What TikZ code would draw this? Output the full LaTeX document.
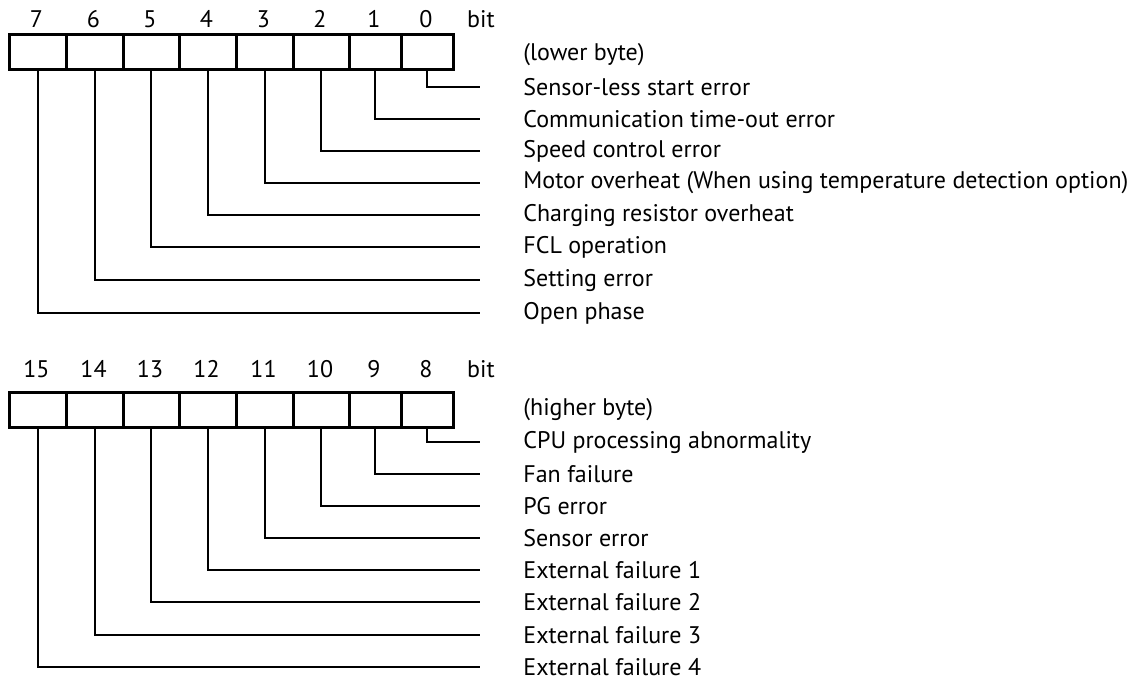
\documentclass[tikz,border=0pt]{standalone}
\usepackage{fontspec}
\setmainfont{PT Sans}
\begin{document}
\begin{tikzpicture}[x=0.5pt,y=-0.5pt,
  cell/.style={draw,line width=1.3pt,minimum height=17.5pt,inner sep=0pt,anchor=north west},
  num/.style={font=\fontsize{12}{14}\selectfont,inner sep=0pt},
  lbl/.style={font=\fontsize{12}{14}\selectfont,inner sep=0pt,anchor=west},
  conn/.style={line width=0.85pt,shorten >=21.5pt}]
\useasboundingbox (0,0) rectangle (1139,680);
% upper register
\foreach \b/\x/\w in {7/8/57,6/65/57,5/122/56,4/178/57,3/235/57,2/292/56,1/348/52,0/400/52}{
  \node[cell,minimum width=\w*0.5pt] (c\b) at (\x,33) {};
  \node[num] (n\b) at (\x+\w/2,19) {\b};
}
\node[num] (bitA) at (481,19) {bit};
\node[lbl] (lb) at (523,55) {(lower byte)};
\foreach \b/\y/\t in {0/87/Sensor-less start error,1/119/Communication time-out error,2/151/Speed control error,3/183/Motor overheat (When using temperature detection option),4/215/Charging resistor overheat,5/247/FCL operation,6/280/Setting error,7/313/Open phase}{
  \node[lbl] (l\b) at (523,\y) {\t};
  \draw[conn] (c\b.south) |- (l\b.west);
}
% lower register
\foreach \b/\x/\w in {15/8/57,14/65/57,13/122/56,12/178/57,11/235/57,10/292/56,9/348/52,8/400/52}{
  \node[cell,minimum width=\w*0.5pt] (c\b) at (\x,391) {};
  \node[num] (n\b) at (\x+\w/2,369) {\b};
}
\node[num] (bitB) at (481,369) {bit};
\node[lbl] (hb) at (523,410) {(higher byte)};
\foreach \b/\y/\t in {8/442/CPU processing abnormality,9/474/Fan failure,10/506/PG error,11/538/Sensor error,12/570/External failure 1,13/602/External failure 2,14/635/External failure 3,15/667/External failure 4}{
  \node[lbl] (l\b) at (523,\y) {\t};
  \draw[conn] (c\b.south) |- (l\b.west);
}
\end{tikzpicture}
\end{document}
